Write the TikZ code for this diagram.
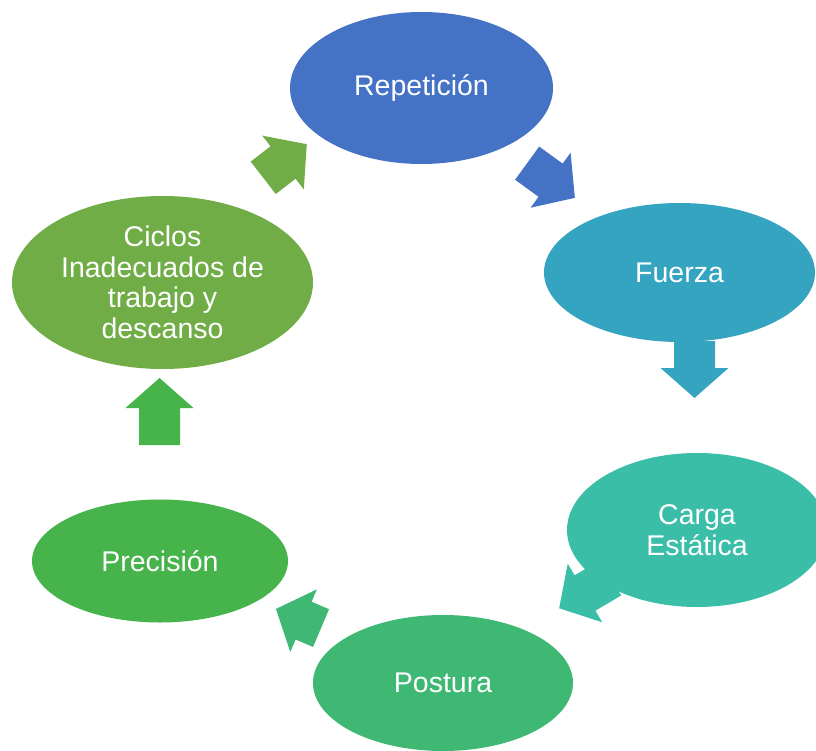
\documentclass[tikz,border=0pt]{standalone}
\usepackage{fontspec}
\setmainfont{Liberation Sans}
\usetikzlibrary{shapes.geometric}

\definecolor{repcol}{HTML}{4472C4}
\definecolor{fuecol}{HTML}{35A4C1}
\definecolor{carcol}{HTML}{3BBEA8}
\definecolor{poscol}{HTML}{3FB874}
\definecolor{precol}{HTML}{46B34B}
\definecolor{ciccol}{HTML}{70AD47}

\tikzset{
    stage/.style={ellipse, inner sep=0pt, text=white, align=center,
        font=\fontsize{28.5}{30.5}\selectfont},
    pics/blockarrow/.style 2 args={code={
        \fill[#1] (-#2/2,-20.5) -- (#2/2-30,-20.5) -- (#2/2-30,-34) -- (#2/2,0)
            -- (#2/2-30,34) -- (#2/2-30,20.5) -- (-#2/2,20.5) -- cycle;
    }}
}

\begin{document}
\begin{tikzpicture}[x=1pt, y=-1pt]
    \useasboundingbox (0,0) rectangle (816,751);

    % Arrows
    \pic[rotate=37.7] (a1) at (285,161) {blockarrow={ciccol}{55}};
    \pic[rotate=-36] (a2) at (551,180.5) {blockarrow={repcol}{59}};
    \pic[rotate=-90] (a3) at (694.5,369.5) {blockarrow={fuecol}{57}};
    \pic[rotate=210.5] (a4) at (585,593) {blockarrow={carcol}{60}};
    \pic[rotate=157] (a5) at (298.5,618.5) {blockarrow={poscol}{49}};
    \pic[rotate=90] (a6) at (159.5,411.5) {blockarrow={precol}{67}};

    % Nodes
    \node[stage, fill=repcol, minimum width=263pt, minimum height=152pt] (rep) at (421.5,88) {Repetición};
    \node[stage, fill=fuecol, minimum width=271pt, minimum height=139pt] (fue) at (679.5,272.5) {Fuerza};
    \node[stage, fill=carcol, minimum width=260pt, minimum height=154pt] (car) at (697,530) {Carga\\Estática};
    \node[stage, fill=poscol, minimum width=260pt, minimum height=136pt] (pos) at (443,683) {Postura};
    \node[stage, fill=precol, minimum width=256pt, minimum height=123pt] (pre) at (160,561) {Precisión};
    \node[stage, fill=ciccol, minimum width=301pt, minimum height=173pt] (cic) at (162.5,282.5) {Ciclos\\Inadecuados de\\trabajo y\\descanso};
\end{tikzpicture}
\end{document}
